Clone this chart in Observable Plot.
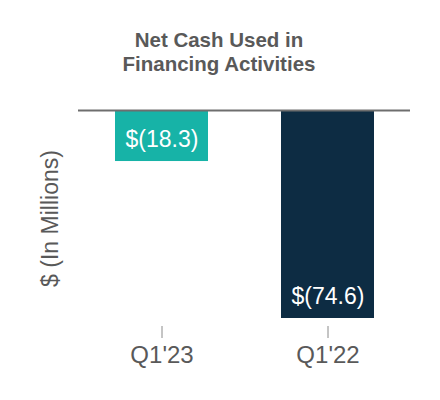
<!DOCTYPE html>
<html>
<head>
<meta charset="utf-8">
<script src="https://cdn.jsdelivr.net/npm/d3@7"></script>
<script src="https://cdn.jsdelivr.net/npm/@observablehq/plot@0.6"></script>
<style>
  html, body { margin: 0; padding: 0; background: #fff; }
  body { width: 440px; height: 400px; overflow: hidden; font-family: "Liberation Sans", Arial, Helvetica, sans-serif; }
  #title { height: 85px; box-sizing: border-box; padding-top: 28px; text-align: center; font-weight: bold; font-size: 20.5px; line-height: 23.5px; color: #595959; padding-right: 2px; }
</style>
</head>
<body>
<div id="title">Net Cash Used in<br>Financing Activities</div>
<div id="chart"></div>
<script>
const periods = ["Q1'23", "Q1'22"];
const values = [-18.3, -74.6];
const valueLabels = ["$(18.3)", "$(74.6)"];
const colors = ["#17b3a7", "#0d2c43"];
const yLabel = "$ (In Millions)";

const data = periods.map((p, i) => ({period: p, value: values[i], label: valueLabels[i], color: colors[i]}));

const chart = Plot.plot({
  width: 440,
  height: 315,
  marginTop: 25,
  marginBottom: 74,
  marginLeft: 78,
  marginRight: 30,
  insetBottom: 8,
  style: {fontFamily: '"Liberation Sans", Arial, Helvetica, sans-serif', color: "#595959", background: "#fff"},
  x: {domain: periods, paddingInner: 0.44, paddingOuter: 0.22, label: null},
  y: {domain: [-74.6, 0], axis: null},
  marks: [
    Plot.barY(data, {x: "period", y: "value", fill: "color"}),
    Plot.ruleY([0], {stroke: "#6e6e6e", strokeWidth: 2}),
    Plot.text(data, {x: "period", y: "value", text: "label", fill: "#fff", fontSize: 23, dy: -22}),
    Plot.axisX({tickSize: 12, tickPadding: 7, fontSize: 24, stroke: "#8a8a8a", fill: "#595959", label: null}),
    Plot.text([yLabel], {frameAnchor: "left", dx: -28, rotate: -90, fontSize: 23, fill: "#595959", textAnchor: "middle"})
  ]
});
document.getElementById("chart").appendChild(chart);
</script>
</body>
</html>
